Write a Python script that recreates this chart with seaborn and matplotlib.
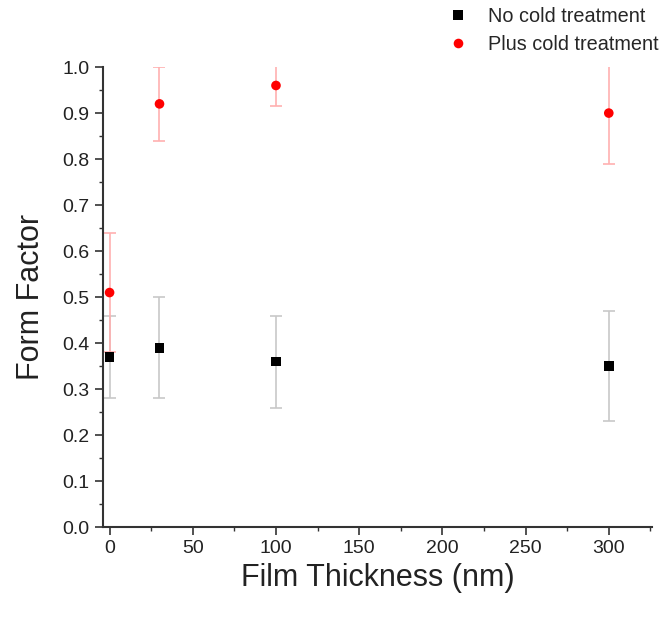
import numpy as np
import pandas as pd
import matplotlib
matplotlib.use("Agg")
import matplotlib.pyplot as plt
from matplotlib.ticker import MultipleLocator
import seaborn as sns

# data
thickness = [0, 30, 100, 300]
no_cold = [0.37, 0.39, 0.36, 0.35]
no_cold_err = [0.09, 0.11, 0.10, 0.12]
plus_cold = [0.51, 0.92, 0.96, 0.90]
plus_cold_err = [0.13, 0.08, 0.045, 0.11]
series = ["No cold treatment", "Plus cold treatment"]

df = pd.DataFrame({
	"thickness": thickness * 2,
	"ff": no_cold + plus_cold,
	"err": no_cold_err + plus_cold_err,
	"group": [series[0]] * 4 + [series[1]] * 4,
})

sns.set_style("ticks")
plt.rcParams["font.family"] = ["Liberation Sans", "DejaVu Sans"]

fig = plt.figure(figsize=(6.64, 6.21), dpi=100)
ax = fig.add_axes([0.155, 0.151, 0.827, 0.741])

err_colors = {series[0]: "#c8c8c8", series[1]: "#ffb0b0"}
for name, sub in df.groupby("group"):
	ax.errorbar(sub["thickness"], sub["ff"], yerr=sub["err"], fmt="none",
		ecolor=err_colors[name], elinewidth=1.2, capsize=4, capthick=1.2, zorder=1)

sns.scatterplot(data=df, x="thickness", y="ff", hue="group", style="group",
	palette={series[0]: "black", series[1]: "red"},
	markers={series[0]: "s", series[1]: "o"},
	s=48, linewidth=0, ax=ax, zorder=3, clip_on=False)

ax.set_xlim(-4, 326)
ax.set_ylim(0, 1.0)
ax.xaxis.set_major_locator(MultipleLocator(50))
ax.xaxis.set_minor_locator(MultipleLocator(25))
ax.yaxis.set_major_locator(MultipleLocator(0.1))
ax.yaxis.set_minor_locator(MultipleLocator(0.05))
ax.yaxis.set_major_formatter(matplotlib.ticker.FormatStrFormatter("%.1f"))
ax.tick_params(which="major", length=6, width=1.2, labelsize=14, color="#333333", labelcolor="#222222")
ax.tick_params(which="minor", length=3, width=1.0, color="#333333")
sns.despine(ax=ax)
for s in ["left", "bottom"]:
	ax.spines[s].set_linewidth(1.5)
	ax.spines[s].set_color("#333333")

ax.set_xlabel("Film Thickness (nm)", fontsize=22, color="#222222", labelpad=4)
ax.set_ylabel("Form Factor", fontsize=22, color="#222222", labelpad=12)

handles, labels = ax.get_legend_handles_labels()
ax.legend(handles, labels, loc="upper right", bbox_to_anchor=(1.045, 1.17),
	frameon=False, fontsize=14.3, markerscale=1.0, handlelength=1.4,
	handletextpad=0.8, labelspacing=0.45)

fig.savefig("out.png", dpi=100)
